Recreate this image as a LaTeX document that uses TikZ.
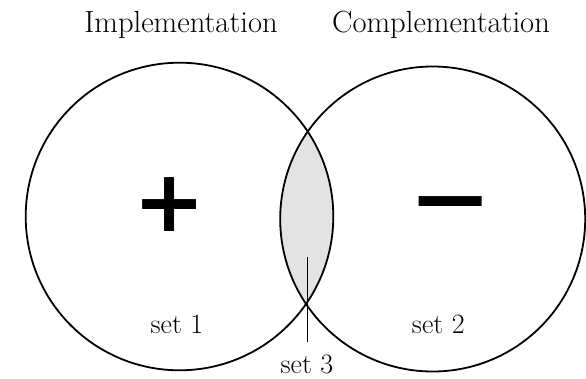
\documentclass[tikz,border=0pt]{standalone}
\usepackage{fontspec}
\newfontfamily\symfont{DejaVu Sans}
\begin{document}
\begin{tikzpicture}[x=1pt,y=-1pt,
  ring/.style={draw=black,line width=1.8pt,circle,inner sep=0pt},
  ttl/.style={font=\fontsize{30.6}{34}\selectfont,inner sep=0pt,anchor=base},
  lbl/.style={font=\fontsize{28}{32}\selectfont,inner sep=0pt,anchor=base},
  sym/.style={font=\symfont\bfseries\fontsize{86}{90}\selectfont,inner sep=0pt}]
\useasboundingbox (0,0) rectangle (586,378);
\coordinate (c1) at (179.5,216.5);
\coordinate (c2) at (432.7,219);
\begin{scope}
  \clip (c1) circle (153.8);
  \fill[gray!22] (c2) circle (152.5);
\end{scope}
\node[ring,minimum size=307.6pt] (s1) at (c1) {};
\node[ring,minimum size=305pt] (s2) at (c2) {};
\node[ttl] (t1) at (181,32) {Implementation};
\node[ttl] (t2) at (441,32) {Complementation};
\node[sym] (plus) at (169.5,205) {+};
\node[sym] (minus) at (450.5,213) {\scalebox{1.17}[1]{−}};
\node[lbl] (l1) at (177,333) {set 1};
\node[lbl] (l2) at (438.3,333) {set 2};
\node[lbl] (l3) at (307,373) {set 3};
\coordinate (p3) at (307,257);
\draw[line width=0.8pt] (p3) -- (l3.north |- 0,342);
\end{tikzpicture}
\end{document}
